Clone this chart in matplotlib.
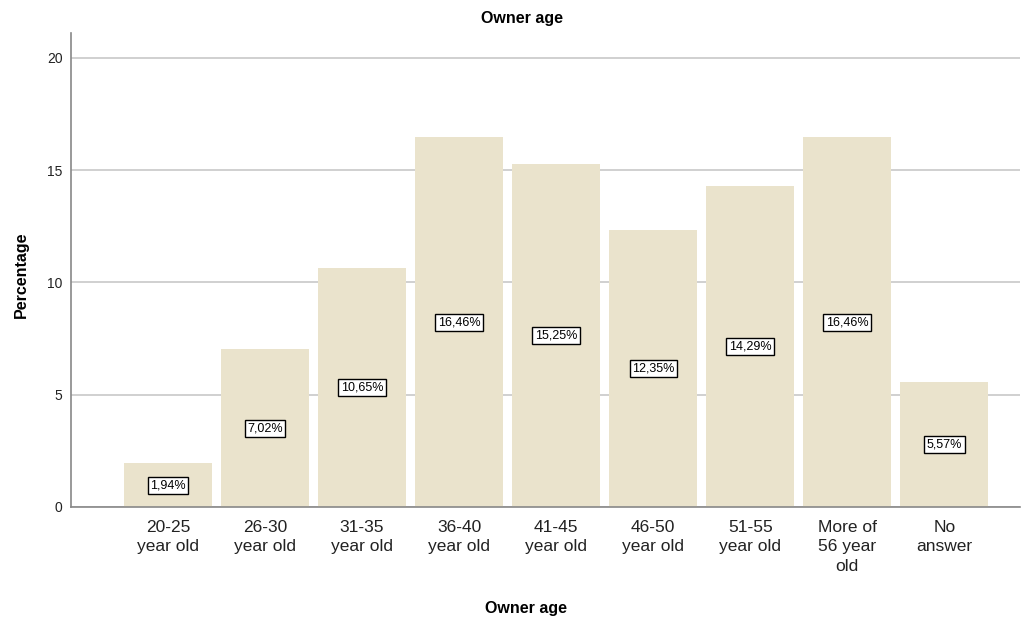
import matplotlib
matplotlib.use("Agg")
import matplotlib.pyplot as plt

categories = [
    "20-25\nyear old", "26-30\nyear old", "31-35\nyear old", "36-40\nyear old",
    "41-45\nyear old", "46-50\nyear old", "51-55\nyear old",
    "More of\n56 year\nold", "No\nanswer",
]
percentages = [1.94, 7.02, 10.65, 16.46, 15.25, 12.35, 14.29, 16.46, 5.57]
y_ticks = [0, 5, 10, 15, 20]

plt.rcParams["font.family"] = ["Liberation Sans", "DejaVu Sans"]

fig = plt.figure(figsize=(10.29, 6.23), dpi=100)
ax = fig.add_axes([71 / 1029, 116 / 623, (1020 - 71) / 1029, (507 - 33) / 623])

x = list(range(len(categories)))
ax.bar(x, percentages, width=0.907, color="#EAE3CC", zorder=2)

for xi, v in zip(x, percentages):
    label = f"{v:.2f}%".replace(".", ",")
    ax.text(xi, v / 2, label, ha="center", va="center", fontsize=9, zorder=3,
            bbox=dict(boxstyle="square,pad=0.2", facecolor="white",
                      edgecolor="black", linewidth=1))

ax.set_xlim(-1.0, 8.78)
ax.set_ylim(0, 21.1)
ax.set_yticks(y_ticks)
ax.set_xticks(x)
ax.set_xticklabels(categories, fontsize=12.5, color="#222222", linespacing=1.4)
ax.tick_params(axis="y", labelsize=10, length=0, pad=6, labelcolor="#222222")
ax.tick_params(axis="x", length=0, pad=9)
ax.yaxis.grid(True, color="#C8C8C8", linewidth=1.2, zorder=1)
ax.set_axisbelow(True)

for side in ["top", "right"]:
    ax.spines[side].set_visible(False)
ax.spines["left"].set_color("#888888")
ax.spines["bottom"].set_color("#888888")
ax.spines["left"].set_linewidth(1.2)
ax.spines["bottom"].set_linewidth(1.2)

fig.text(522 / 1029, 1 - 18 / 623, "Owner age", ha="center", va="center",
         fontsize=11.5, fontweight="bold")
fig.text(526 / 1029, 1 - 608 / 623, "Owner age", ha="center", va="center",
         fontsize=11.5, fontweight="bold")
fig.text(21 / 1029, 1 - 275 / 623, "Percentage", ha="center", va="center",
         rotation=90, fontsize=11.5, fontweight="bold")

fig.savefig("out.png", dpi=100)
